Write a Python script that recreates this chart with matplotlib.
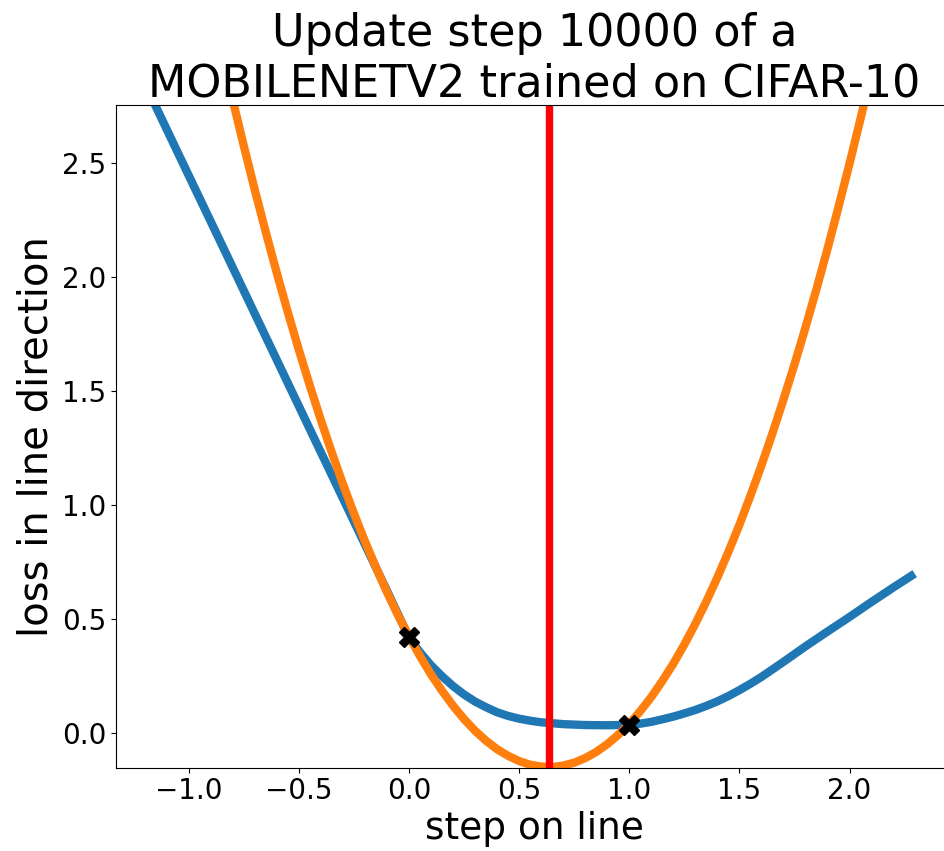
import numpy as np
import matplotlib
matplotlib.use("Agg")
import matplotlib.pyplot as plt

# loss measured along the update direction (blue)
step_pos = [-1.2, -1.0, -0.8, -0.6, -0.4, -0.2, -0.1, 0.0, 0.05, 0.1, 0.15, 0.2,
            0.25, 0.3, 0.35, 0.4, 0.45, 0.5, 0.55, 0.6, 0.65, 0.7, 0.8, 0.9,
            1.0, 1.05, 1.1, 1.15, 1.2, 1.25, 1.3, 1.35, 1.4, 1.45, 1.5, 1.55,
            1.6, 1.65, 1.7, 1.75, 1.8, 1.9, 2.0, 2.1, 2.2, 2.28]
line_loss = [2.851, 2.446, 2.042, 1.637, 1.232, 0.828, 0.625, 0.420, 0.355, 0.298,
             0.250, 0.207, 0.170, 0.139, 0.114, 0.092, 0.076, 0.064, 0.055, 0.048,
             0.044, 0.040, 0.036, 0.035, 0.037, 0.042, 0.050, 0.061, 0.073, 0.087,
             0.102, 0.120, 0.140, 0.163, 0.189, 0.217, 0.247, 0.280, 0.313, 0.347,
             0.381, 0.446, 0.510, 0.576, 0.640, 0.690]

# parabolic approximation (orange)
parab_pos = [-0.8, -0.75, -0.7, -0.65, -0.6, -0.55, -0.5, -0.45, -0.4, -0.35,
             -0.3, -0.25, -0.2, -0.15, -0.1, -0.05, 0.0, 0.05, 0.1, 0.15, 0.2,
             0.25, 0.3, 0.35, 0.4, 0.45, 0.5, 0.55, 0.6, 0.65, 0.7, 0.75, 0.8,
             0.85, 0.9, 0.95, 1.0, 1.05, 1.1, 1.15, 1.2, 1.25, 1.3, 1.35, 1.4,
             1.45, 1.5, 1.55, 1.6, 1.65, 1.7, 1.75, 1.8, 1.85, 1.9, 1.95, 2.0,
             2.05, 2.1]
parab_loss = [2.776, 2.576, 2.383, 2.197, 2.018, 1.846, 1.681, 1.524, 1.373, 1.230,
              1.093, 0.964, 0.842, 0.727, 0.619, 0.518, 0.425, 0.338, 0.258, 0.186,
              0.121, 0.062, 0.011, -0.033, -0.070, -0.099, -0.122, -0.138, -0.146,
              -0.148, -0.142, -0.129, -0.109, -0.082, -0.048, -0.007, 0.041, 0.097,
              0.159, 0.229, 0.305, 0.389, 0.480, 0.578, 0.683, 0.795, 0.914, 1.041,
              1.174, 1.315, 1.463, 1.617, 1.779, 1.948, 2.124, 2.308, 2.498, 2.695,
              2.900]

# measured points and the chosen step (minimum of parabola)
meas_pos = [0.0, 1.0]
meas_loss = [0.42, 0.037]
chosen_step = 0.635

fig = plt.figure(figsize=(9.45, 8.51), dpi=100)
ax = fig.add_axes([0.1228, 0.0979, 0.8857, 0.7784])

ax.plot(step_pos, line_loss, color='#1f77b4', lw=6)
ax.plot(parab_pos, parab_loss, color='#ff7f0e', lw=6)
ax.plot(meas_pos, meas_loss, 'X', color='black', markersize=14)
ax.axvline(chosen_step, color='red', lw=5.3)

ax.set_xlim(-1.33, 2.47)
ax.set_ylim(-0.151, 2.754)
ax.set_xticks([-1.0, -0.5, 0.0, 0.5, 1.0, 1.5, 2.0])
ax.set_yticks([0.0, 0.5, 1.0, 1.5, 2.0, 2.5])
ax.tick_params(labelsize=20)

ax.set_xlabel('step on line', fontsize=27)
ax.set_ylabel('loss in line direction', fontsize=29)
ax.set_title('Update step 10000 of a\nMOBILENETV2 trained on CIFAR-10', fontsize=32)

fig.savefig('out.png', dpi=100)
